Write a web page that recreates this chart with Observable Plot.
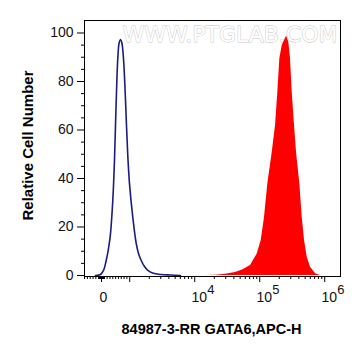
<!DOCTYPE html>
<html>
<head>
<meta charset="utf-8">
<script src="https://cdn.jsdelivr.net/npm/d3@7"></script>
<script src="https://cdn.jsdelivr.net/npm/@observablehq/plot@0.6"></script>
<style>
  html, body { margin: 0; padding: 0; background: white; }
</style>
</head>
<body>
<div id="chart"></div>
<script>
// Isotype control (blue line)
const blueX = [-212,-35,71,166,248,319,400,460,496,531,577,627,673,719,779,839,885,931,992,1116,1259,1366,1503,1689,1899,2243,3052,4243,6047];
const blueY = [0,0.4,2.1,6.2,11.1,17.3,30.9,47.4,61.9,75.5,89.5,96.1,97.3,96.1,89.5,75.5,61.9,49.5,37.9,23.9,13.2,9.1,6.2,3.7,2.1,1.0,0.4,0.2,0];
// Antibody stained (red fill)
const redX = [14660,20890,29780,42430,54380,72200,91520,105470,118560,133270,155740,175060,189900,203870,221950,240700,258400,280300,297700,316200,343100,368300,414000,450700,489000,538000,604700,722000,861700];
const redY = [0,0.1,0.5,1.2,2.3,4.1,8.9,14.4,24.0,37.8,50.7,61.9,75.6,89.4,94.8,96.9,98.7,96.2,89.4,75.6,61.9,50.7,37.8,24.0,14.4,7.5,3.4,0.7,0];

const yMajor = [0,20,40,60,80,100];
const yMinor = [5,10,15,25,30,35,45,50,55,65,70,75,85,90,95];
const xMajor = [0,1e3,1e4,1e5,1e6];
const xMinor = [-600,-500,-400,-300,-200,-100,-90,-80,-70,-60,-50,-40,-30,-20,-10,10,20,30,40,50,60,70,80,90,100,200,300,400,500,600,700,800,900,
  2e3,3e3,4e3,5e3,6e3,7e3,8e3,9e3,2e4,3e4,4e4,5e4,6e4,7e4,8e4,9e4,2e5,3e5,4e5,5e5,6e5,7e5,8e5,9e5];
const xLabelValues = [1e4,1e5,1e6];
const xLabelExp = ["4","5","6"];

const xTitle = "84987-3-RR GATA6,APC-H";
const yTitle = "Relative Cell Number";
const watermark = "WWW.PTGLAB.COM";

// biexponential-like display transform (linear near zero, log above 10^3)
const W = 1000, L = 1 / Math.LN10;
function biex(v) {
  const a = Math.abs(v);
  return a < W ? v / (W * Math.LN10) : Math.sign(v) * (L + Math.log10(a / W));
}

const blue = blueX.map((x, i) => ({x, y: blueY[i]}));
const red = redX.map((x, i) => ({x, y: redY[i]}));
const font = "Liberation Sans, Arial, Helvetica, sans-serif";

const chart = Plot.plot({
  width: 361,
  height: 356,
  marginLeft: 84,
  marginRight: 21,
  marginTop: 20,
  marginBottom: 80,
  style: {fontFamily: font, background: "white", color: "black", fontSize: "14px"},
  x: {type: "linear", domain: [-0.2615, 3.677]},
  y: {domain: [-0.41, 105.15]},
  marks: [
    Plot.text([watermark], {frameAnchor: "top-right", dx: -3, dy: 14, textAnchor: "end", lineAnchor: "middle",
      fontSize: 22, fontFamily: "DejaVu Sans", fill: "white", stroke: "#c4c4c4", strokeWidth: 0.9}),
    Plot.areaY(red, {x: d => biex(d.x), y: "y", fill: "#ff0000"}),
    Plot.line(blue, {x: d => biex(d.x), y: "y", stroke: "#1c1c80", strokeWidth: 1.6, curve: "catmull-rom"}),
    Plot.axisY(yMajor, {tickSize: 7, tickPadding: 4, fontSize: 14, label: null, fill: "#111"}),
    Plot.axisY(yMinor, {tickSize: 3, tickFormat: () => "", label: null}),
    Plot.axisX(xMajor.map(biex), {tickSize: 6, tickFormat: () => "", label: null}),
    Plot.axisX(xMinor.map(biex), {tickSize: 3, tickFormat: () => "", label: null}),
    Plot.text([0], {x: d => biex(d), text: () => "0", frameAnchor: "bottom", dy: 21, dx: 2, lineAnchor: "middle", fontSize: 14, fill: "#111"}),
    Plot.text(xLabelValues, {x: d => biex(d), text: () => "10", frameAnchor: "bottom", dy: 21, dx: 4.5, lineAnchor: "middle", fontSize: 14, fill: "#111"}),
    Plot.text(xLabelValues, {x: d => biex(d), text: (d, i) => xLabelExp[i], frameAnchor: "bottom", dy: 13, dx: 12.5, textAnchor: "start", lineAnchor: "middle", fontSize: 13, fill: "#111"}),
    Plot.frame({stroke: "black"}),
    Plot.text([xTitle], {frameAnchor: "bottom", dx: -1, dy: 53, textAnchor: "middle", lineAnchor: "middle", fontSize: 14.5, fontWeight: "bold"}),
    Plot.text([yTitle], {frameAnchor: "left", dx: -56.5, dy: -3, rotate: -90, textAnchor: "middle", lineAnchor: "middle", fontSize: 15, fontWeight: "bold"})
  ]
});
document.getElementById("chart").appendChild(chart);
</script>
</body>
</html>
